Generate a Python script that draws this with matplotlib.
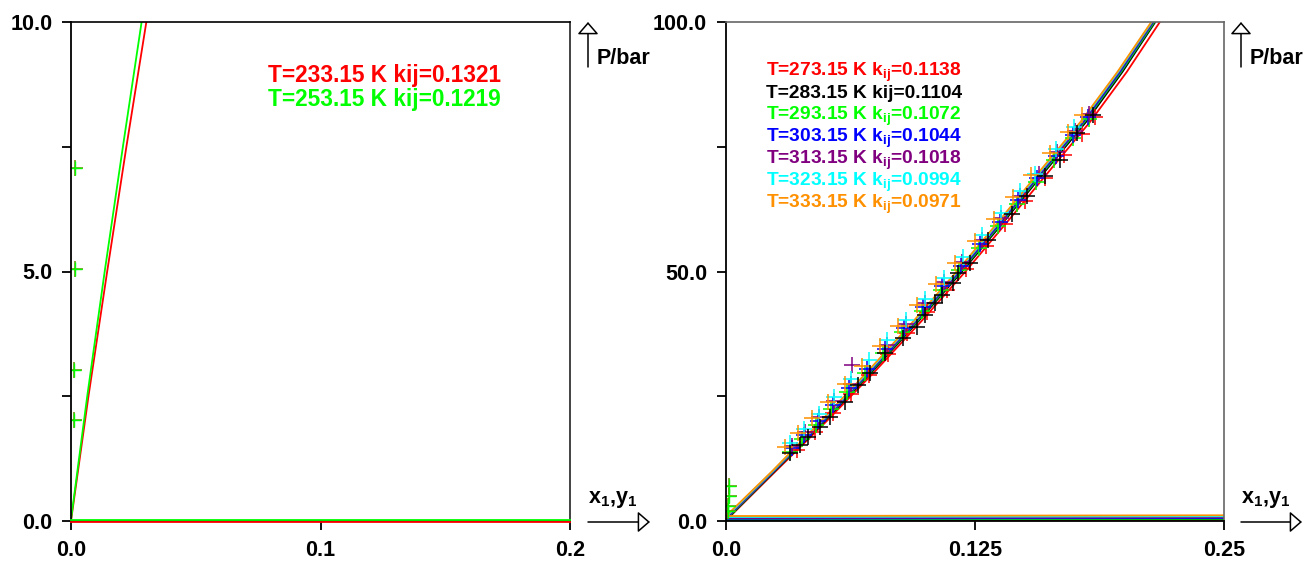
import matplotlib
matplotlib.use("Agg")
import matplotlib.pyplot as plt
from matplotlib.patches import FancyArrowPatch

plt.rcParams['font.family'] = ['Liberation Sans', 'DejaVu Sans']
plt.rcParams['font.weight'] = 'bold'
plt.rcParams['mathtext.fontset'] = 'custom'
plt.rcParams['mathtext.rm'] = 'Liberation Sans:bold'
plt.rcParams['mathtext.it'] = 'Liberation Sans:bold'
plt.rcParams['mathtext.bf'] = 'Liberation Sans:bold'

# ---------------- data ----------------
# Left panel (low temperatures)
low_labels = ["T=233.15 K kij=0.1321", "T=253.15 K kij=0.1219"]
low_colors = ["#ff0000", "#00ff00"]
low_exp_x = [0.0017, 0.0015, 0.0011, 0.0011]
low_exp_p = [7.08, 5.05, 3.03, 2.02]
low_liq_p = [2.5, 5.0, 7.5, 10.0, 11.0]
low_liq_x_233 = [0.0070, 0.0145, 0.0222, 0.0302, 0.0335]
low_liq_x_253 = [0.0065, 0.0135, 0.0208, 0.0283, 0.0314]
low_vap_x = [0.0, 0.2]
low_vap_p_233 = [-0.015, -0.015]
low_vap_p_253 = [0.025, 0.025]

# Right panel (high temperatures)
temps = ["273.15", "283.15", "293.15", "303.15", "313.15", "323.15", "333.15"]
kij = ["0.1138", "0.1104", "0.1072", "0.1044", "0.1018", "0.0994", "0.0971"]
colors = ["#ff0000", "#000000", "#00ff00", "#0000ff", "#800080", "#00ffff", "#ff9000"]

liq_p_grid = [10, 20, 30, 40, 50, 60, 70, 80, 90, 100, 104]
p0 = [0.1, 0.2, 0.3, 0.45, 0.6, 0.8, 1.0]
liq_x_273 = [0.0250, 0.0505, 0.0748, 0.0980, 0.1202, 0.1413, 0.1620, 0.1828, 0.2012, 0.2178, 0.2245]
liq_x_283 = [0.0245, 0.0495, 0.0735, 0.0965, 0.1185, 0.1395, 0.1600, 0.1808, 0.1990, 0.2155, 0.2220]
liq_x_293 = [0.0242, 0.0490, 0.0729, 0.0959, 0.1178, 0.1388, 0.1593, 0.1800, 0.1983, 0.2150, 0.2215]
liq_x_303 = [0.0240, 0.0487, 0.0725, 0.0954, 0.1173, 0.1383, 0.1588, 0.1795, 0.1978, 0.2145, 0.2210]
liq_x_313 = [0.0238, 0.0484, 0.0721, 0.0950, 0.1168, 0.1378, 0.1583, 0.1790, 0.1973, 0.2142, 0.2207]
liq_x_323 = [0.0235, 0.0480, 0.0717, 0.0945, 0.1163, 0.1373, 0.1578, 0.1785, 0.1969, 0.2138, 0.2203]
liq_x_333 = [0.0232, 0.0476, 0.0712, 0.0940, 0.1158, 0.1368, 0.1573, 0.1780, 0.1965, 0.2135, 0.2200]

vap_x = [0.0, 0.26]
vap_p_rise = [0.0, 0.15]

exp_p_273 = [14.2, 17.9, 21.6, 25.4, 29.3, 33.4, 37.6, 41.9, 46.3, 50.6, 55.1, 59.6, 64.2, 68.8, 73.3, 77.6, 80.9]
exp_x_273 = [0.0358, 0.0447, 0.0535, 0.0626, 0.0717, 0.0813, 0.0910, 0.1008, 0.1108, 0.1204, 0.1304, 0.1402, 0.1502, 0.1600, 0.1695, 0.1785, 0.1854]

exp_p_283 = [13.6, 15.2, 16.8, 18.8, 20.8, 23.8, 27.3, 29.7, 33.7, 36.7, 38.9, 41.3, 43.7, 45.3, 47.7, 49.7, 51.7, 56.3, 61.5, 65.1, 69.1, 72.3, 77.8, 81.4]
exp_x_283 = [0.0321, 0.0371, 0.0412, 0.0472, 0.0522, 0.0597, 0.0663, 0.0723, 0.0798, 0.0889, 0.0959, 0.0999, 0.1049, 0.1084, 0.1140, 0.1165, 0.1225, 0.1315, 0.1436, 0.1511, 0.1601, 0.1677, 0.1762, 0.1842]

exp_p_293 = [13.9, 16.4, 19.3, 22.4, 25.8, 29.6, 33.6, 37.8, 42.0, 46.2, 50.4, 54.8, 59.2, 63.6, 68.0, 72.4, 76.8, 80.6]
exp_x_293 = [0.0322, 0.0383, 0.0452, 0.0526, 0.0607, 0.0696, 0.0790, 0.0886, 0.0982, 0.1077, 0.1171, 0.1269, 0.1365, 0.1461, 0.1555, 0.1648, 0.1741, 0.1820]

exp_p_303 = [14.6, 17.2, 20.1, 23.3, 26.7, 30.5, 34.5, 38.6, 42.8, 47.0, 51.2, 55.6, 60.0, 64.4, 68.8, 73.2, 77.4, 81.0]
exp_x_303 = [0.0329, 0.0392, 0.0462, 0.0538, 0.0618, 0.0707, 0.0800, 0.0895, 0.0991, 0.1085, 0.1179, 0.1277, 0.1373, 0.1468, 0.1562, 0.1655, 0.1743, 0.1818]

exp_p_313 = [15.1, 17.8, 20.8, 24.0, 27.5, 31.3, 35.3, 39.4, 43.6, 47.8, 52.0, 56.4, 60.8, 65.2, 69.6, 74.0, 78.2, 81.6]
exp_x_313 = [0.0331, 0.0396, 0.0468, 0.0544, 0.0627, 0.0633, 0.0809, 0.0903, 0.0999, 0.1093, 0.1187, 0.1284, 0.1380, 0.1475, 0.1569, 0.1662, 0.1750, 0.1820]

exp_p_323 = [15.6, 18.4, 21.5, 24.8, 28.4, 32.2, 36.2, 40.3, 44.5, 48.7, 53.0, 57.4, 61.8, 66.2, 69.6, 74.6, 79.0]
exp_x_323 = [0.0323, 0.0391, 0.0465, 0.0543, 0.0628, 0.0717, 0.0810, 0.0904, 0.0999, 0.1093, 0.1189, 0.1286, 0.1382, 0.1477, 0.1549, 0.1655, 0.1746]

exp_p_333 = [14.8, 17.6, 20.6, 23.9, 27.4, 31.1, 35.0, 39.0, 43.2, 47.4, 51.7, 56.1, 60.5, 64.9, 69.3, 73.8, 78.0, 81.4]
exp_x_333 = [0.0294, 0.0362, 0.0434, 0.0512, 0.0595, 0.0681, 0.0772, 0.0864, 0.0960, 0.1054, 0.1150, 0.1248, 0.1344, 0.1439, 0.1533, 0.1628, 0.1716, 0.1786]

liq_x_all = [liq_x_273, liq_x_283, liq_x_293, liq_x_303, liq_x_313, liq_x_323, liq_x_333]
exp_x_all = [exp_x_273, exp_x_283, exp_x_293, exp_x_303, exp_x_313, exp_x_323, exp_x_333]
exp_p_all = [exp_p_273, exp_p_283, exp_p_293, exp_p_303, exp_p_313, exp_p_323, exp_p_333]

# ---------------- figure ----------------
W, H = 1309, 562
fig = plt.figure(figsize=(W / 100, H / 100), dpi=100)

def fx(px):
    return px / W

def fy(py):
    return 1 - py / H

axL = fig.add_axes([fx(71), fy(521), 499 / W, 499 / H])
axR = fig.add_axes([fx(726), fy(521), 498 / W, 499 / H])

LW = 1.3
MS = 11

# Left panel
axL.plot([0.0] + low_liq_x_233, [0.0] + low_liq_p, color=low_colors[0], lw=LW)
axL.plot([0.0] + low_liq_x_253, [low_vap_p_253[0]] + low_liq_p, color=low_colors[1], lw=LW)
axL.plot(low_vap_x, low_vap_p_253, color=low_colors[1], lw=LW, clip_on=False, zorder=3)
axL.plot(low_vap_x, low_vap_p_233, color=low_colors[0], lw=LW, clip_on=False, zorder=3)
axL.plot(low_exp_x, low_exp_p, ls='none', marker='+', ms=MS, mew=1.1, color='#6a8a00')
axL.plot(low_exp_x, low_exp_p, ls='none', marker='+', ms=MS - 1, mew=1.0, color=low_colors[1])
axL.set_xlim(0, 0.2)
axL.set_ylim(0, 10)
for i, (lab, c) in enumerate(zip(low_labels, low_colors)):
    fig.text(fx(268), fy(82 + 24 * i), lab, color=c, fontsize=16.3, fontweight='bold',
             ha='left', va='baseline')

# Right panel
for i in range(len(temps)):
    axR.plot([0.0] + liq_x_all[i], [p0[i]] + liq_p_grid, color=colors[i], lw=LW)
    axR.plot(vap_x, [p0[i] + vap_p_rise[0], p0[i] + vap_p_rise[1]], color=colors[i], lw=LW)

# low temperature points shown also on right panel
axR.plot(low_exp_x, low_exp_p, ls='none', marker='+', ms=MS, mew=1.1, color='#6a8a00')
axR.plot(low_exp_x, low_exp_p, ls='none', marker='+', ms=MS - 1, mew=1.0, color=low_colors[1])

order = [0, 2, 3, 4, 5, 6, 1]
for i in order:
    axR.plot(exp_x_all[i], exp_p_all[i], ls='none', marker='+', ms=MS, mew=1.1,
             color=colors[i])
axR.set_xlim(0, 0.25)
axR.set_ylim(0, 100)

for i in range(len(temps)):
    if i == 1:
        lab = "T=%s K kij=%s" % (temps[i], kij[i])
    else:
        lab = "T=%s K k$_{ij}$=%s" % (temps[i], kij[i])
    fig.text(fx(766), fy(76 + 22.0 * i), lab, color=colors[i], fontsize=13.8,
             fontweight='bold', ha='left', va='baseline')

# axes styling
for ax, xt, xl, yt, yl, ym in [
        (axL, [0, 0.1, 0.2], ['0.0', '0.1', '0.2'], [0, 5, 10], ['0.0', '5.0', '10.0'], [2.5, 7.5]),
        (axR, [0, 0.125, 0.25], ['0.0', '0.125', '0.25'], [0, 50, 100], ['0.0', '50.0', '100.0'], [25, 75])]:
    ax.set_xticks(xt)
    ax.set_xticklabels(xl)
    ax.set_yticks(yt)
    ax.set_yticklabels(yl)
    ax.set_yticks(ym, minor=True)
    ax.tick_params(axis='both', which='both', direction='out', length=6.5, width=1.3,
                   labelsize=15.5, top=False, right=False)
    ax.tick_params(axis='x', pad=7.5)
    ax.tick_params(axis='y', pad=7)
    for lbl in ax.get_xticklabels() + ax.get_yticklabels():
        lbl.set_fontweight('bold')
    ax.spines['left'].set_linewidth(1.3)
    ax.spines['bottom'].set_linewidth(1.3)
    ax.spines['left'].set_color('black')
    ax.spines['bottom'].set_color('black')

axL.spines['top'].set_color('black')
axL.spines['right'].set_color('#222222')
axR.spines['top'].set_color('#666666')
axR.spines['right'].set_color('#666666')
for ax in (axL, axR):
    ax.spines['top'].set_linewidth(1.2)
    ax.spines['right'].set_linewidth(1.2)

# axis labels with arrows
def arrow(x0, y0, x1, y1):
    a = FancyArrowPatch((fx(x0), fy(y0)), (fx(x1), fy(y1)), transform=fig.transFigure,
                        arrowstyle='-|>,head_length=7.5,head_width=6.5', mutation_scale=1,
                        fc='white', ec='black', lw=1.1, shrinkA=0, shrinkB=0)
    fig.add_artist(a)

for xa in (588, 1241):
    arrow(xa, 67, xa, 22)
    fig.text(fx(xa + 9), fy(58), "P/bar", fontsize=15.5, fontweight='bold', ha='left', va='center')

for xs, xe in ((588, 650), (1241, 1302)):
    arrow(xs, 522, xe, 522)
    fig.text(fx(xs), fy(500), "x$_1$,y$_1$", fontsize=15.5, fontweight='bold', ha='left', va='center')

fig.savefig("out.png", dpi=100)
